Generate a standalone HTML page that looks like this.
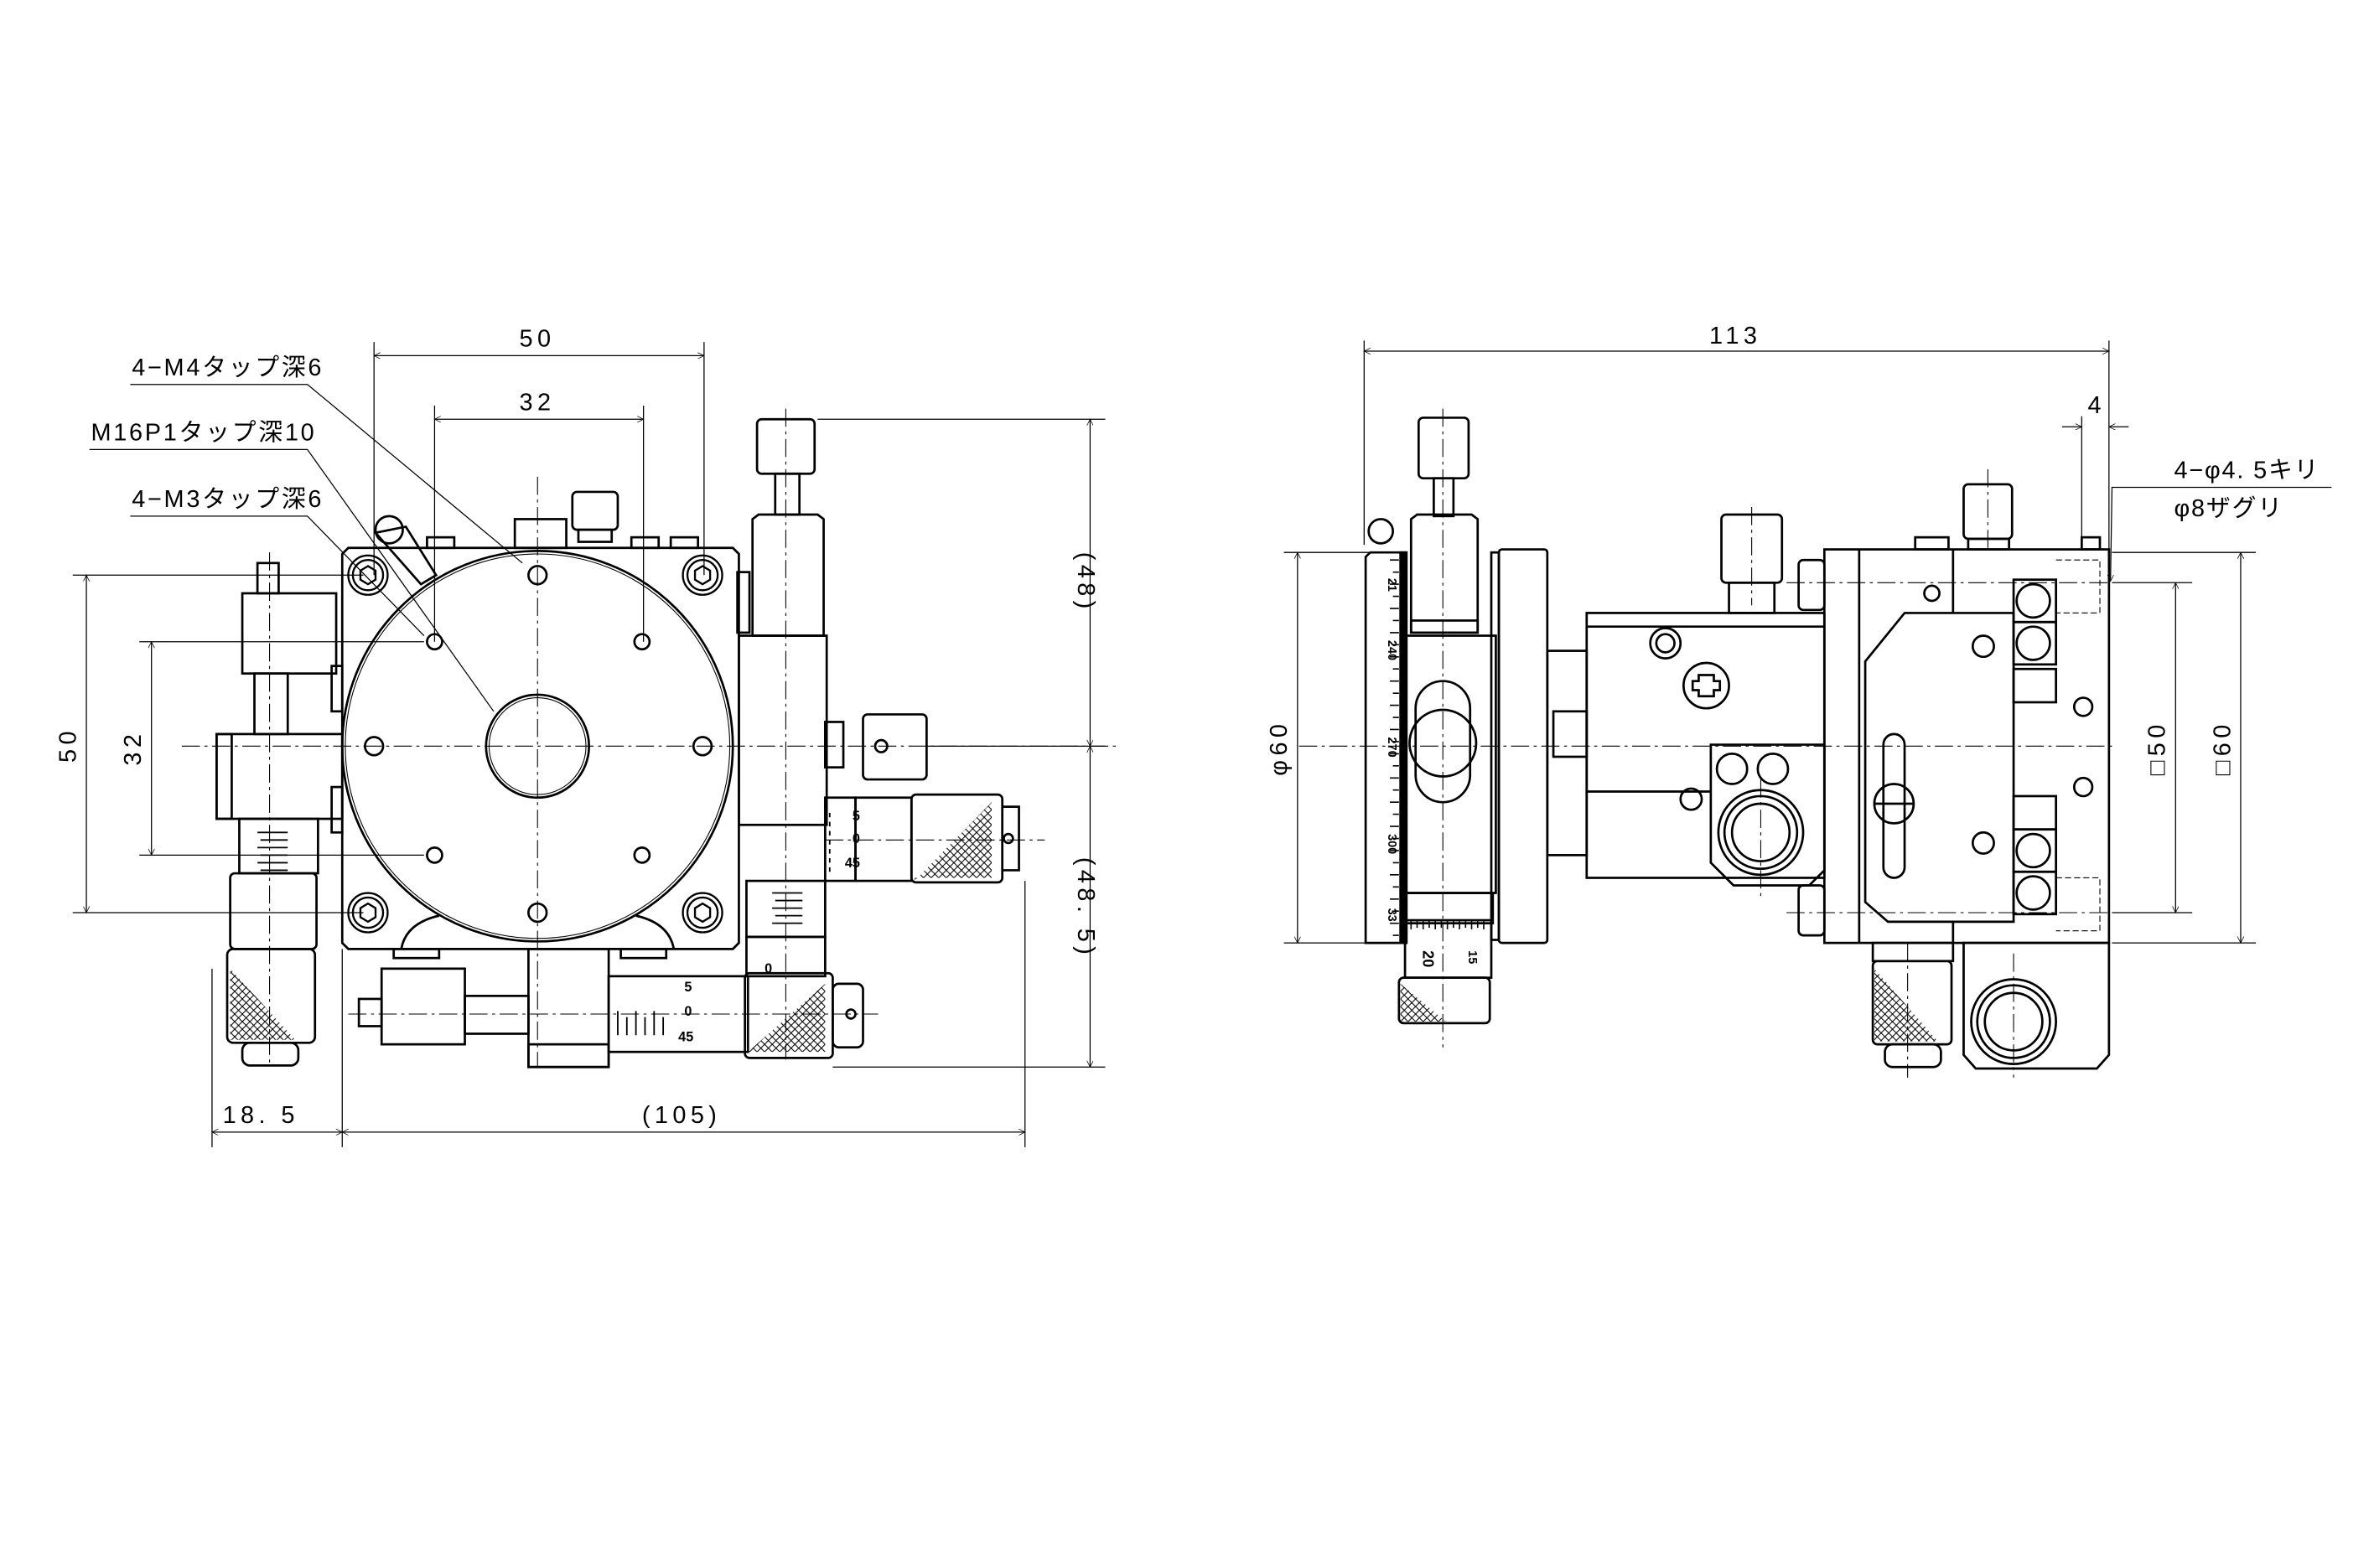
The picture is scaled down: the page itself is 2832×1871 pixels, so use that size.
<!DOCTYPE html>
<html><head><meta charset="utf-8"><style>
html,body{margin:0;padding:0;background:#fff}
svg{display:block}
text{font-family:"Liberation Sans","Noto Sans CJK JP",sans-serif;fill:#000}
</style></head><body>
<svg width="2832" height="1871" viewBox="0 0 1568 1036" xmlns="http://www.w3.org/2000/svg">
<defs>
<pattern id="xh" width="5" height="5" patternUnits="userSpaceOnUse"><path d="M0 0L5 5M5 0L0 5" stroke="#000" stroke-width="0.6"/></pattern>
<marker id="ar" viewBox="0 0 10 10" refX="10" refY="5" markerWidth="9" markerHeight="6" orient="auto-start-reverse"><path d="M0 0L10 5L0 10" fill="none" stroke="#000" stroke-width="1"/></marker>
</defs>
<g fill="none" stroke="#000" stroke-width="0.7">
<line x1="247" y1="226" x2="247" y2="380"/><line x1="465" y1="226" x2="465" y2="380"/>
<line x1="247" y1="235" x2="465" y2="235" marker-start="url(#ar)" marker-end="url(#ar)"/>
<line x1="287" y1="268" x2="287" y2="424"/><line x1="425" y1="268" x2="425" y2="424"/>
<line x1="287" y1="277" x2="425" y2="277" marker-start="url(#ar)" marker-end="url(#ar)"/>
<polyline points="86,254 203,254 345,372"/>
<polyline points="59,297 203,297 326,470"/>
<polyline points="86,341 203,341 280,420"/>
<line x1="540" y1="277" x2="730" y2="277"/><line x1="612" y1="493" x2="730" y2="493"/><line x1="550" y1="705" x2="730" y2="705"/>
<line x1="720" y1="277" x2="720" y2="493" marker-start="url(#ar)" marker-end="url(#ar)"/>
<line x1="720" y1="493" x2="720" y2="705" marker-start="url(#ar)" marker-end="url(#ar)"/>
<line x1="48" y1="380" x2="240" y2="380"/><line x1="48" y1="603" x2="240" y2="603"/>
<line x1="57" y1="380" x2="57" y2="603" marker-start="url(#ar)" marker-end="url(#ar)"/>
<line x1="92" y1="424" x2="280" y2="424"/><line x1="92" y1="565" x2="280" y2="565"/>
<line x1="100" y1="424" x2="100" y2="565" marker-start="url(#ar)" marker-end="url(#ar)"/>
<line x1="140" y1="640" x2="140" y2="758"/><line x1="226" y1="627" x2="226" y2="758"/><line x1="677" y1="582" x2="677" y2="758"/>
<line x1="140" y1="748" x2="226" y2="748" marker-start="url(#ar)" marker-end="url(#ar)"/>
<line x1="226" y1="748" x2="677" y2="748" marker-start="url(#ar)" marker-end="url(#ar)"/>
</g>
<g font-size="16" letter-spacing="3">
<text x="343" y="229">50</text>
<text x="343" y="271">32</text>
<text x="87" y="248" letter-spacing="1.5">4−M4タップ深6</text>
<text x="60" y="291" letter-spacing="1.5">M16P1タップ深10</text>
<text x="87" y="335" letter-spacing="1.5">4−M3タップ深6</text>
<text transform="translate(712,385) rotate(90)" text-anchor="middle">(48)</text>
<text transform="translate(712,600) rotate(90)" text-anchor="middle">(48. 5)</text>
<text transform="translate(50,492) rotate(-90)" text-anchor="middle">50</text>
<text transform="translate(93,494) rotate(-90)" text-anchor="middle">32</text>
<text x="147" y="742">18. 5</text>
<text x="424" y="742">(105)</text>
</g>
<g fill="none" stroke="#000" stroke-width="1.5">
<path d="M230 362H484L488 366V623L484 627H230L226 623V366Z"/>
<circle cx="355" cy="493" r="129"/><circle cx="355" cy="493" r="127" stroke-width="0.6"/>
<circle cx="355" cy="493" r="34"/><circle cx="355" cy="493" r="32" stroke-width="0.6"/>
<path d="M265 627Q268 610 290 605"/><path d="M445 627Q442 610 420 605"/>
<g stroke-width="1.3">
<circle cx="243" cy="380" r="13"/><circle cx="243" cy="380" r="10"/><path d="M243 374l5 3v6l-5 3l-5-3v-6z"/>
<circle cx="464" cy="380" r="13"/><circle cx="464" cy="380" r="10"/><path d="M464 374l5 3v6l-5 3l-5-3v-6z"/>
<circle cx="243" cy="603" r="13"/><circle cx="243" cy="603" r="10"/><path d="M243 597l5 3v6l-5 3l-5-3v-6z"/>
<circle cx="464" cy="603" r="13"/><circle cx="464" cy="603" r="10"/><path d="M464 597l5 3v6l-5 3l-5-3v-6z"/>
</g>
<circle cx="355" cy="380" r="6"/><circle cx="355" cy="603" r="6"/><circle cx="247" cy="493" r="6"/><circle cx="464" cy="493" r="6"/>
<circle cx="287" cy="424" r="5"/><circle cx="424" cy="424" r="5"/><circle cx="287" cy="565" r="5"/><circle cx="424" cy="565" r="5"/>
<rect x="340" y="343" width="34" height="19"/><rect x="378" y="325" width="30" height="25" rx="3"/><rect x="382" y="350" width="22" height="8"/>
<rect x="282" y="355" width="18" height="7"/><rect x="417" y="355" width="18" height="7"/><rect x="443" y="355" width="18" height="7"/>
<path d="M248 352L268 348L288 380L278 386Z"/><circle cx="257" cy="350" r="9"/>
<rect x="500" y="277" width="38" height="36" rx="3"/><rect x="512" y="313" width="16" height="27"/>
<path d="M497 343L501 340H540L544 343V420H497Z"/>
<rect x="488" y="420" width="58" height="125"/>
<rect x="487" y="378" width="8" height="40"/>
<rect x="545" y="477" width="12" height="30"/><rect x="570" y="472" width="42" height="43" rx="3"/><circle cx="582" cy="493" r="4"/>
<rect x="545" y="527" width="20" height="55"/><rect x="565" y="527" width="37" height="55"/><rect x="602" y="525" width="60" height="58" rx="3"/>
<path d="M662 533H673V575H662"/><circle cx="666" cy="554" r="3"/>
<path d="M604 582L655 530V580H604Z" fill="url(#xh)" stroke="none"/>
<rect x="493" y="582" width="52" height="37"/><rect x="493" y="619" width="52" height="26"/>
<rect x="349" y="627" width="53" height="78"/><rect x="349" y="690" width="53" height="15"/>
<rect x="252" y="640" width="55" height="50"/><rect x="237" y="660" width="15" height="18"/>
<rect x="307" y="658" width="42" height="25"/>
<rect x="402" y="645" width="92" height="50"/><rect x="492" y="643" width="58" height="56" rx="3"/>
<rect x="550" y="650" width="20" height="42" rx="4"/><circle cx="562" cy="670" r="3"/>
<path d="M494 695L545 650V695Z" fill="url(#xh)" stroke="none"/>
<rect x="260" y="627" width="30" height="6"/><rect x="410" y="627" width="30" height="6"/>
<rect x="170" y="372" width="14" height="20"/><rect x="160" y="392" width="62" height="53"/>
<rect x="168" y="445" width="22" height="40"/>
<rect x="143" y="485" width="83" height="56"/><rect x="143" y="485" width="10" height="56"/>
<rect x="158" y="541" width="52" height="36"/>
<rect x="152" y="577" width="57" height="50" rx="3"/>
<rect x="150" y="627" width="58" height="62" rx="4"/>
<path d="M152 640L195 687H152Z" fill="url(#xh)" stroke="none"/>
<rect x="160" y="689" width="37" height="15" rx="5"/>
<rect x="219" y="440" width="7" height="30"/><rect x="219" y="520" width="7" height="30"/>
</g>
<g stroke="#000" stroke-width="1">
<path d="M170 550h20M172 555h18M170 560h20M172 565h18M170 570h20M172 575h18"/>
<path d="M510 590h20M512 595h18M510 600h20M512 605h18M510 610h20"/>
<path d="M548 540v-3M548 546v-3M548 552v-3M548 558v-3M548 564v-3M548 570v-3M548 576v-3"/>
<path d="M408 668v16M414 672v12M420 668v16M426 672v12M432 668v16M438 672v12"/>
</g>
<g font-size="9" font-weight="bold">
<text x="563" y="542">5</text><text x="563" y="557">0</text><text x="558" y="573">45</text>
<text x="452" y="655">5</text><text x="452" y="671">0</text><text x="448" y="688">45</text>
<text x="505" y="643">0</text>
</g>
<g stroke="#000" stroke-width="0.6" stroke-dasharray="12 3 2 3" fill="none">
<line x1="120" y1="493" x2="740" y2="493"/><line x1="355" y1="315" x2="355" y2="705"/>
<line x1="519" y1="270" x2="519" y2="700"/><line x1="178" y1="365" x2="178" y2="705"/>
<line x1="545" y1="555" x2="690" y2="555"/><line x1="230" y1="670" x2="580" y2="670"/>
</g>
<g fill="none" stroke="#000" stroke-width="0.7">
<line x1="901" y1="225" x2="901" y2="360"/><line x1="1393" y1="225" x2="1393" y2="365"/>
<line x1="901" y1="232" x2="1393" y2="232" marker-start="url(#ar)" marker-end="url(#ar)"/>
<line x1="1375" y1="275" x2="1375" y2="358"/>
<line x1="1362" y1="282" x2="1375" y2="282" marker-end="url(#ar)"/><line x1="1406" y1="282" x2="1393" y2="282" marker-end="url(#ar)"/>
<polyline points="1540,322 1395,322 1394,384" marker-end="url(#ar)"/>
<line x1="848" y1="365" x2="905" y2="365"/><line x1="848" y1="623" x2="905" y2="623"/>
<line x1="857" y1="365" x2="857" y2="623" marker-start="url(#ar)" marker-end="url(#ar)"/>
<line x1="1395" y1="385" x2="1448" y2="385"/><line x1="1395" y1="603" x2="1448" y2="603"/>
<line x1="1437" y1="385" x2="1437" y2="603" marker-start="url(#ar)" marker-end="url(#ar)"/>
<line x1="1395" y1="365" x2="1490" y2="365"/><line x1="1395" y1="623" x2="1490" y2="623"/>
<line x1="1480" y1="365" x2="1480" y2="623" marker-start="url(#ar)" marker-end="url(#ar)"/>
</g>
<g font-size="16" letter-spacing="3">
<text x="1129" y="227">113</text>
<text x="1379" y="273">4</text>
<text x="1436" y="316" letter-spacing="1">4−φ4. 5キリ</text>
<text x="1436" y="341" letter-spacing="1">φ8ザグリ</text>
<text transform="translate(850,494) rotate(-90)" text-anchor="middle">φ60</text>
<text transform="translate(1430,494) rotate(-90)" text-anchor="middle">□50</text>
<text transform="translate(1473,494) rotate(-90)" text-anchor="middle">□60</text>
</g>
<g fill="none" stroke="#000" stroke-width="1.5">
<path d="M905 365H928V623H902V368Z"/>
<circle cx="912" cy="351" r="8"/>
<rect x="925" y="365" width="4" height="258" fill="#000"/>
<rect x="937" y="276" width="33" height="40" rx="3"/><rect x="947" y="316" width="13" height="25"/>
<path d="M932 343L936 340H972L976 343V418H932Z"/><rect x="932" y="410" width="44" height="8"/>
<rect x="928" y="420" width="60" height="170"/>
<rect x="935" y="450" width="36" height="80" rx="18"/><circle cx="953" cy="491" r="22"/>
<rect x="928" y="590" width="58" height="20"/>
<rect x="928" y="608" width="57" height="38"/>
<rect x="924" y="646" width="60" height="30" rx="3"/>
<path d="M925 650L955 675H925Z" fill="url(#xh)" stroke="none"/>
<rect x="990" y="363" width="32" height="260" rx="2"/><rect x="985" y="365" width="5" height="256"/>
<rect x="1022" y="430" width="26" height="135"/><rect x="1026" y="470" width="22" height="30"/>
<rect x="1048" y="405" width="157" height="175"/><line x1="1048" y1="414" x2="1205" y2="414"/>
<rect x="1137" y="340" width="40" height="45" rx="3"/><rect x="1142" y="385" width="30" height="20"/>
<circle cx="1100" cy="425" r="10"/><circle cx="1100" cy="425" r="6"/>
<circle cx="1127" cy="453" r="15"/><path d="M1122 446h10v4h4v6h-4v4h-10v-4h-4v-6h4z"/>
<line x1="1048" y1="523" x2="1130" y2="523"/>
<path d="M1130 492H1205V575L1195 585H1145L1130 570Z"/>
<circle cx="1144" cy="508" r="10"/><circle cx="1171" cy="508" r="10"/>
<circle cx="1163" cy="550" r="28"/><circle cx="1163" cy="550" r="24"/><circle cx="1163" cy="550" r="19"/>
<circle cx="1117" cy="528" r="7"/>
<rect x="1205" y="363" width="188" height="260"/>
<line x1="1228" y1="363" x2="1228" y2="623"/><line x1="1290" y1="363" x2="1290" y2="623"/>
<path d="M1258 405H1330V609H1247L1232 596V437Z" fill="#fff"/>
<rect x="1244" y="485" width="14" height="95" rx="7"/><circle cx="1251" cy="531" r="13"/><line x1="1238" y1="531" x2="1264" y2="531"/>
<rect x="1330" y="383" width="28" height="28"/><circle cx="1343" cy="397" r="11"/>
<rect x="1330" y="411" width="28" height="28"/><circle cx="1343" cy="425" r="11"/>
<rect x="1330" y="548" width="28" height="28"/><circle cx="1343" cy="562" r="11"/>
<rect x="1330" y="576" width="28" height="28"/><circle cx="1343" cy="590" r="11"/>
<rect x="1330" y="442" width="28" height="22"/><rect x="1330" y="526" width="28" height="22"/>
<circle cx="1310" cy="427" r="7"/><circle cx="1310" cy="557" r="7"/><circle cx="1276" cy="392" r="5"/>
<circle cx="1376" cy="467" r="6"/><circle cx="1376" cy="520" r="6"/>
<rect x="1188" y="370" width="17" height="33" rx="3"/><rect x="1188" y="585" width="17" height="33" rx="3"/>
<rect x="1297" y="320" width="32" height="36" rx="3"/><rect x="1300" y="356" width="27" height="7"/>
<rect x="1265" y="355" width="22" height="8"/><rect x="1375" y="355" width="12" height="8"/>
<path d="M1297 623H1393V697L1385 706H1305L1297 697Z"/>
<circle cx="1330" cy="675" r="28"/><circle cx="1330" cy="675" r="24"/><circle cx="1330" cy="675" r="19"/>
<rect x="1237" y="623" width="53" height="12"/>
<rect x="1237" y="635" width="52" height="55" rx="3"/>
<path d="M1238 640L1280 688H1238Z" fill="url(#xh)" stroke="none"/>
<rect x="1245" y="690" width="37" height="15" rx="5"/>
</g>
<g stroke="#000" stroke-width="0.6" stroke-dasharray="4 2" fill="none">
<path d="M1358 370H1387V405H1358M1358 580H1387V615H1358"/>
</g>
<g font-size="8" font-weight="bold">
<text transform="translate(917,382) rotate(90)">21</text>
<text transform="translate(917,423) rotate(90)">240</text>
<text transform="translate(917,487) rotate(90)">270</text>
<text transform="translate(917,551) rotate(90)">300</text>
<text transform="translate(917,600) rotate(90)">33</text>
<text transform="translate(940,628) rotate(90)" font-size="10">20</text>
<text transform="translate(970,628) rotate(90)">15</text>
</g>
<g stroke="#000" stroke-width="0.9">
<path d="M918 370h6M920 378h4M918 386h6M920 394h4M918 402h6M920 410h4M918 418h6M920 426h4M918 434h6M920 442h4M918 450h6M920 458h4M918 466h6M920 474h4M918 482h6M920 490h4M918 498h6M920 506h4M918 514h6M920 522h4M918 530h6M920 538h4M918 546h6M920 554h4M918 562h6M920 570h4M918 578h6M920 586h4M918 594h6M920 602h4M918 610h6M920 618h4"/>
<path d="M932 608v6M936 608v5M940 608v6M944 608v5M948 608v6M952 608v5M956 608v6M960 608v5M964 608v6M968 608v5M972 608v6M976 608v5M980 608v6"/>
</g>
<g stroke="#000" stroke-width="0.6" stroke-dasharray="12 3 2 3" fill="none">
<line x1="858" y1="493" x2="1395" y2="493"/><line x1="953" y1="270" x2="953" y2="692"/>
<line x1="1313" y1="310" x2="1313" y2="365"/><line x1="1157" y1="335" x2="1157" y2="400"/>
<line x1="1163" y1="515" x2="1163" y2="595"/><line x1="1260" y1="623" x2="1260" y2="712"/>
<line x1="1330" y1="630" x2="1330" y2="712"/><line x1="1180" y1="385" x2="1393" y2="385"/>
<line x1="1180" y1="603" x2="1393" y2="603"/>
</g>
</svg>
</body></html>
